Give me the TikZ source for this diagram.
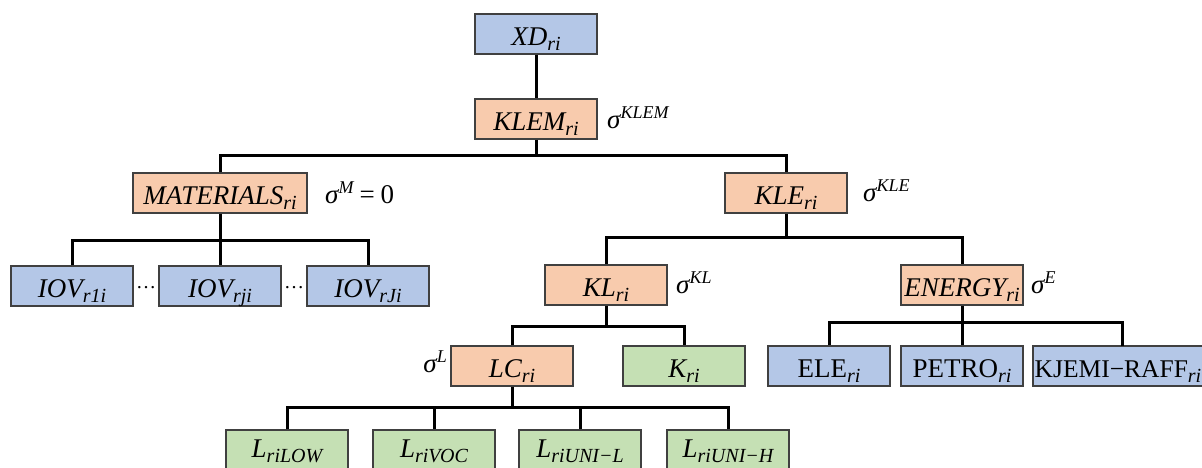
\documentclass[tikz,border=0pt]{standalone}
\usepackage{fontspec}
\setmainfont{Liberation Serif}
\usepackage{tikz}
\definecolor{bbl}{HTML}{B4C7E7}
\definecolor{bor}{HTML}{F8CBAD}
\definecolor{bgr}{HTML}{C5E0B4}
\definecolor{bdr}{HTML}{404040}
\newcommand{\lsub}[1]{\raisebox{-5pt}{\fontsize{20}{20}\selectfont\itshape #1}}
\newcommand{\lsup}[1]{\raisebox{10pt}{\fontsize{18}{20}\selectfont\itshape #1}}
\newcommand{\vr}[2]{{\itshape #1}\lsub{#2}}
\tikzset{
  basebox/.style={draw=bdr, line width=1.3pt, inner sep=0pt, minimum height=40pt, minimum width=122pt, text height=23pt, text depth=0pt, font=\fontsize{27}{30}\selectfont},
  bluebox/.style={basebox, fill=bbl},
  orangebox/.style={basebox, fill=bor},
  greenbox/.style={basebox, fill=bgr},
  lowbox/.style={greenbox, text height=15pt},
  conn/.style={line width=3pt, black},
  siglab/.style={inner sep=0pt, anchor=west, font=\fontsize{27}{30}\selectfont},
  dotlab/.style={inner sep=0pt, font=\fontsize{20}{22}\selectfont},
}
\begin{document}
\begin{tikzpicture}[x=1pt,y=-1pt]
\useasboundingbox (0,0) rectangle (1202,468);
\clip (0,0) rectangle (1202,468);
\fill[white] (0,0) rectangle (1202,468);
\coordinate (b1) at (536,156);
\coordinate (b2) at (220,240);
\coordinate (b3) at (786,237);
\coordinate (b4) at (606,326);
\coordinate (b5) at (962,322);
\coordinate (b6) at (512,407);
\coordinate (kjt) at (1122,346);
\node[bluebox] (xd) at (536,34) {\vr{XD}{ri}};
\node[orangebox] (klem) at (536,119) {\vr{KLEM}{ri}};
\node[orangebox, minimum width=174pt] (mat) at (220,193) {\vr{MATERIALS}{ri}};
\node[orangebox] (kle) at (786,193) {\vr{KLE}{ri}};
\node[bluebox] (iov1) at (72,286) {\vr{IOV}{r1i}};
\node[bluebox] (iov2) at (220,286) {\vr{IOV}{rji}};
\node[bluebox] (iov3) at (368,286) {\vr{IOV}{rJi}};
\node[orangebox] (kl) at (606,285) {\vr{KL}{ri}};
\node[orangebox] (en) at (962,285) {\vr{ENERGY}{ri}};
\node[orangebox] (lc) at (512,366) {\vr{LC}{ri}};
\node[greenbox] (k) at (684,366) {\vr{K}{ri}};
\node[bluebox] (ele) at (829,366) {ELE\lsub{ri}};
\node[bluebox] (pet) at (962,366) {PETRO\lsub{ri}};
\node[bluebox, minimum width=170pt, font=\fontsize{25.5}{30}\selectfont] (kje) at (1118,366) {KJEMI−RAFF\lsub{ri}};
\node[lowbox] (l1) at (287,450) {\vr{L}{riLOW}};
\node[lowbox] (l2) at (434,450) {\vr{L}{riVOC}};
\node[lowbox] (l3) at (580,450) {\vr{L}{riUNI−L}};
\node[lowbox] (l4) at (728,450) {\vr{L}{riUNI−H}};
\draw[conn] (xd.south) -- (klem.north);
\draw[conn] (klem.south) -- (b1);
\draw[conn] (mat.north) |- (b1) -| (kle.north);
\draw[conn] (mat.south) -- (iov2.north);
\draw[conn] (iov1.north) |- (b2) -| (iov3.north);
\draw[conn] (kle.south) -- (b3);
\draw[conn] (kl.north) |- (b3) -| (en.north);
\draw[conn] (kl.south) -- (b4);
\draw[conn] (lc.north) |- (b4) -| (k.north);
\draw[conn] (en.south) -- (pet.north);
\draw[conn] (ele.north) |- (b5) -| (kjt);
\draw[conn] (lc.south) -- (b6);
\draw[conn] (l1.north) |- (b6) -| (l4.north);
\draw[conn] (l2.north) -- (l2.north |- b6);
\draw[conn] (l3.north) -- (l3.north |- b6);
\node[dotlab] (d1) at (146,288) {…};
\node[dotlab] (d2) at (294,288) {…};
\node[siglab] (s1) at (607,118) {\itshape σ\lsup{KLEM}};
\node[siglab] (s2) at (325,193) {{\itshape σ}\lsup{M}\hspace{6pt}=\hspace{6pt}0};
\node[siglab] (s3) at (863,191) {\itshape σ\lsup{KLE}};
\node[siglab] (s4) at (676,283) {\itshape σ\lsup{KL}};
\node[siglab] (s5) at (1031,283) {\itshape σ\lsup{E}};
\node[siglab, anchor=east] (s6) at (447,362) {\itshape σ\lsup{L}};
\end{tikzpicture}
\end{document}
